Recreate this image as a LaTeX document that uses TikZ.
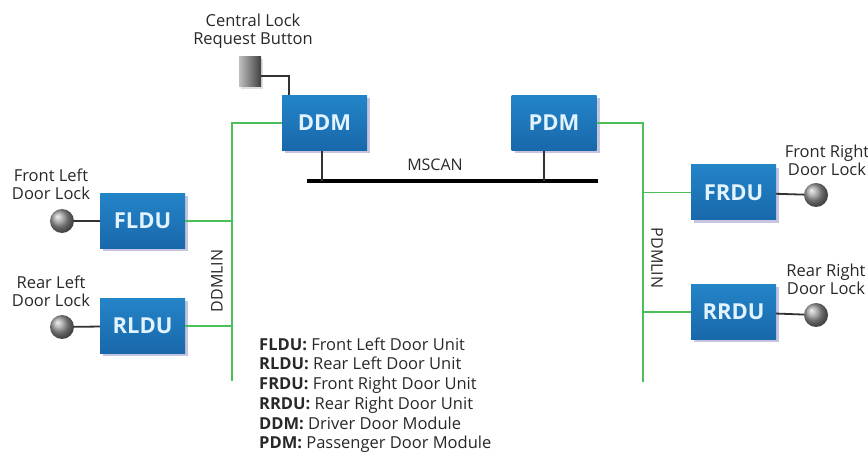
\documentclass[tikz,border=0pt]{standalone}
\usepackage{fontspec}
\setmainfont{Open Sans}
\usetikzlibrary{shadows,calc}
\definecolor{boxblue}{RGB}{36,132,200}
\definecolor{boxblueD}{RGB}{24,104,170}
\definecolor{boxtext}{RGB}{225,243,255}
\definecolor{lingreen}{RGB}{76,190,90}
\definecolor{wiregray}{RGB}{50,50,50}
\definecolor{txtgray}{RGB}{40,40,40}
\tikzset{
  unitbox/.style={rectangle, minimum width=85pt, minimum height=55pt, inner sep=0pt,
    top color=boxblue, bottom color=boxblueD, draw=none,
    drop shadow={shadow xshift=3pt, shadow yshift=-3pt, fill=blue!30!gray, opacity=0.35},
    text=boxtext, font=\fontsize{22}{22}\selectfont\bfseries},
  lock/.style={circle, minimum size=24pt, inner sep=0pt, draw=none,
    ball color=gray!80!white, shading=ball},
  greenline/.style={draw=lingreen, line width=1.6pt},
  wire/.style={draw=wiregray, line width=1.8pt},
  bus/.style={draw=black, line width=4.5pt},
  lbl/.style={align=center, text=txtgray, font=\fontsize{16.5}{18}\selectfont},
  buslbl/.style={text=txtgray, font=\fontsize{16}{16}\selectfont},
}
\begin{document}
\begin{tikzpicture}[x=1pt,y=-1pt]
\useasboundingbox (0,0) rectangle (868,454);
% nodes
\node[unitbox] (DDM) at (324.5,123) {DDM};
\node[unitbox] (PDM) at (554,123) {PDM};
\node[unitbox] (FLDU) at (142.5,221) {FLDU};
\node[unitbox] (RLDU) at (142.5,326) {RLDU};
\node[unitbox] (FRDU) at (733.5,192.5) {FRDU};
\node[unitbox] (RRDU) at (733.5,312) {RRDU};
\node[rectangle, minimum width=22pt, minimum height=30pt, inner sep=0pt,
  left color=gray!50, right color=black!75, draw=none,
  drop shadow={shadow xshift=2pt, shadow yshift=-2pt, opacity=0.25}] (btn) at (250,72) {};
\node[lock] (FLL) at (62,221) {};
\node[lock] (RLL) at (62,327) {};
\node[lock] (FRL) at (816,195) {};
\node[lock] (RRL) at (816,315) {};
% coordinates
\coordinate (lbot) at (232,381);
\coordinate (rbot) at (643,382);
\coordinate (busL) at (307,181);
\coordinate (busR) at (598,181);
% lines
\draw[greenline] (DDM.west) -| (lbot);
\draw[greenline] (FLDU.east) -- (FLDU.east -| lbot);
\draw[greenline] (RLDU.east) -- (RLDU.east -| lbot);
\draw[greenline] (PDM.east) -| (rbot);
\draw[greenline] (FRDU.west) -- (FRDU.west -| rbot);
\draw[greenline] (RRDU.west) -- (RRDU.west -| rbot);
\draw[wire] ([yshift=-4pt]btn.east) -| ([xshift=-35.5pt]DDM.north);
\draw[wire] (FLL) -- (FLDU);
\draw[wire] (RLL) -- (RLDU);
\draw[wire] (FRL) -- (FRDU);
\draw[wire] (RRL) -- (RRDU);
\draw[bus] (busL) -- (busR);
\draw[wire] ([xshift=-2.5pt]DDM.south) -- ([xshift=-2.5pt]DDM.south |- busL);
\draw[wire] ([xshift=-10pt]PDM.south) -- ([xshift=-10pt]PDM.south |- busL);
% labels
\node[buslbl] (mscan) at (435,165) {MSCAN};
\node[buslbl, rotate=90] (ddmlin) at (217,281) {DDMLIN};
\node[buslbl, rotate=-90] (pdmlin) at (657,258) {PDMLIN};
\node[lbl] (btnlbl) at (253,31) {Central Lock\\Request Button};
\node[lbl] (fllbl) at (51,184) {Front Left\\Door Lock};
\node[lbl] (rllbl) at (51,291) {Rear Left\\Door Lock};
\node[lbl] (frlbl) at (827,160) {Front Right\\Door Lock};
\node[lbl] (rrlbl) at (826,279.5) {Rear Right\\Door Lock};
\node[anchor=base west, align=left, inner sep=0pt, text=txtgray,
  font=\fontsize{16.5}{19.8}\selectfont] (legend) at (259,449) {%
\textbf{FLDU:} Front Left Door Unit\\
\textbf{RLDU:} Rear Left Door Unit\\
\textbf{FRDU:} Front Right Door Unit\\
\textbf{RRDU:} Rear Right Door Unit\\
\textbf{DDM:} Driver Door Module\\
\textbf{PDM:} Passenger Door Module};
\end{tikzpicture}
\end{document}
